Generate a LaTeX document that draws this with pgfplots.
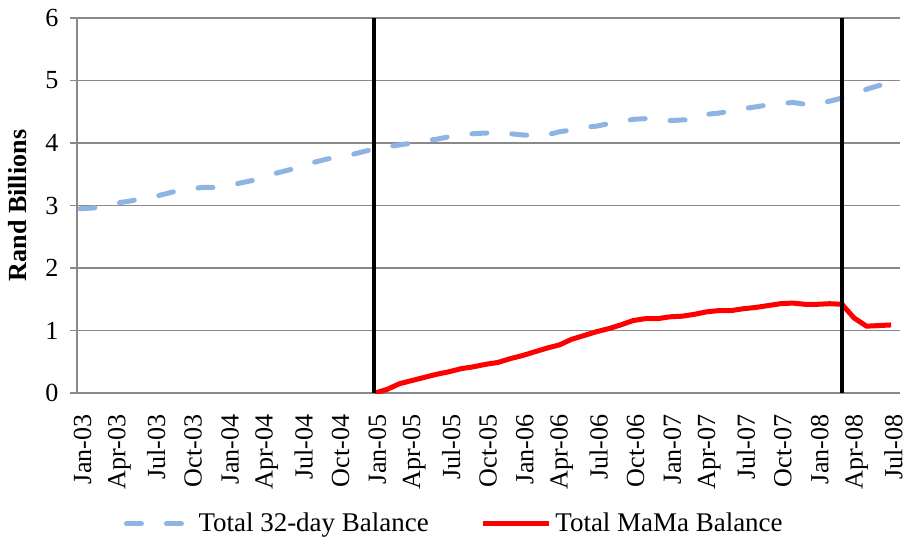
\documentclass[border=0pt,12pt]{standalone}
\usepackage{fontspec}
\setmainfont{Liberation Serif}
\usepackage{pgfplots}
\pgfplotsset{compat=1.18}

\definecolor{bal32}{RGB}{141,180,226}
\definecolor{gridgray}{RGB}{137,137,137}

\pgfplotstableread{
m v
0 2.95
1 2.96
2 2.99
3 3.04
4 3.07
5 3.11
6 3.14
7 3.19
8 3.24
9 3.27
10 3.29
11 3.29
12 3.31
13 3.36
14 3.40
15 3.46
16 3.52
17 3.57
18 3.62
19 3.69
20 3.74
21 3.78
22 3.81
23 3.86
24 3.91
25 3.94
26 3.97
27 4.00
28 4.04
29 4.06
30 4.10
31 4.12
32 4.15
33 4.16
34 4.17
35 4.15
36 4.13
37 4.12
38 4.13
39 4.18
40 4.21
41 4.25
42 4.27
43 4.31
44 4.34
45 4.38
46 4.39
47 4.36
48 4.36
49 4.37
50 4.37
51 4.46
52 4.48
53 4.51
54 4.55
55 4.58
56 4.61
57 4.63
58 4.65
59 4.62
60 4.62
61 4.67
62 4.72
63 4.78
64 4.86
65 4.92
66 4.97
}\dayBal

\pgfplotstableread{
m v
24 0.00
25 0.06
26 0.15
27 0.20
28 0.25
29 0.30
30 0.34
31 0.39
32 0.42
33 0.46
34 0.49
35 0.55
36 0.60
37 0.66
38 0.72
39 0.77
40 0.86
41 0.92
42 0.98
43 1.03
44 1.09
45 1.16
46 1.19
47 1.19
48 1.22
49 1.23
50 1.26
51 1.30
52 1.32
53 1.32
54 1.35
55 1.37
56 1.40
57 1.43
58 1.44
59 1.42
60 1.42
61 1.43
62 1.42
63 1.20
64 1.07
65 1.08
66 1.09
}\mamaBal

\begin{document}
\begin{tikzpicture}
% fixed page size, 907x542 px at 0.46pt per px
\path[use as bounding box] (-35.3pt,-68.5pt) rectangle (381.9pt,180.8pt);
\begin{axis}[
    scale only axis,
    width=378.7pt, height=172.5pt,
    xmin=-0.27, xmax=66.73, ymin=0, ymax=6,
    axis x line*=bottom, axis y line*=left,
    axis line style={gridgray, line width=0.7pt},
    ytick={0,1,...,6},
    ymajorgrids, grid style={gridgray, line width=0.7pt},
    ytick style={gridgray, line width=0.7pt},
    tick align=outside, major tick length=3.2pt,
    yticklabel style={font=\fontsize{12}{14}\selectfont, xshift=-1pt},
    /pgf/number format/assume math mode=true,
    xtick={0.2,3.2,6.2,9.2,12.2,15.2,18.2,21.2,24.2,27.2,30.2,33.2,36.2,39.2,42.2,45.2,48.2,51.2,54.2,57.2,60.2,63.2,66.2},
    xticklabels={Jan-03,Apr-03,Jul-03,Oct-03,Jan-04,Apr-04,Jul-04,Oct-04,Jan-05,Apr-05,Jul-05,Oct-05,Jan-06,Apr-06,Jul-06,Oct-06,Jan-07,Apr-07,Jul-07,Oct-07,Jan-08,Apr-08,Jul-08},
    xtick style={draw=none},
    xticklabel style={rotate=90, anchor=east, font=\fontsize{12}{14}\selectfont, xshift=-2.5pt},
    extra x ticks={-0.27,2.73,5.73,8.73,11.73,14.73,17.73,20.73,23.73,26.73,29.73,32.73,35.73,38.73,41.73,44.73,47.73,50.73,53.73,56.73,59.73,62.73,65.73},
    extra x tick labels={},
    extra x tick style={major tick length=2.8pt, tick style={draw=gridgray, line width=0.7pt}},
    ylabel={\textbf{Rand Billions}},
    ylabel style={font=\fontsize{12}{14}\selectfont},
    every axis y label/.style={at={(rel axis cs:0,0.5)}, xshift=-27pt, rotate=90, anchor=center},
    legend columns=2,
    legend style={draw=none, at={(rel axis cs:0.46,-0.349)}, anchor=center,
        font=\fontsize{12.4}{14}\selectfont,
        /tikz/every even column/.append style={column sep=22pt}},
    legend image code/.code={\draw[#1] (0pt,0pt) -- (30pt,0pt);},
]
\addplot[bal32, line width=2.3pt, line cap=round, dash pattern=on 6.9pt off 11.5pt] table[x=m,y=v] {\dayBal};
\addlegendentry{Total 32-day Balance}
\addplot[red, line width=2.3pt, line join=round] table[x=m,y=v] {\mamaBal};
\addlegendentry{Total MaMa Balance}
\draw[black, line width=1.8pt] (axis cs:23.9,0) -- (axis cs:23.9,6);
\draw[black, line width=1.8pt] (axis cs:62,0) -- (axis cs:62,6);
\end{axis}
\end{tikzpicture}
\end{document}
